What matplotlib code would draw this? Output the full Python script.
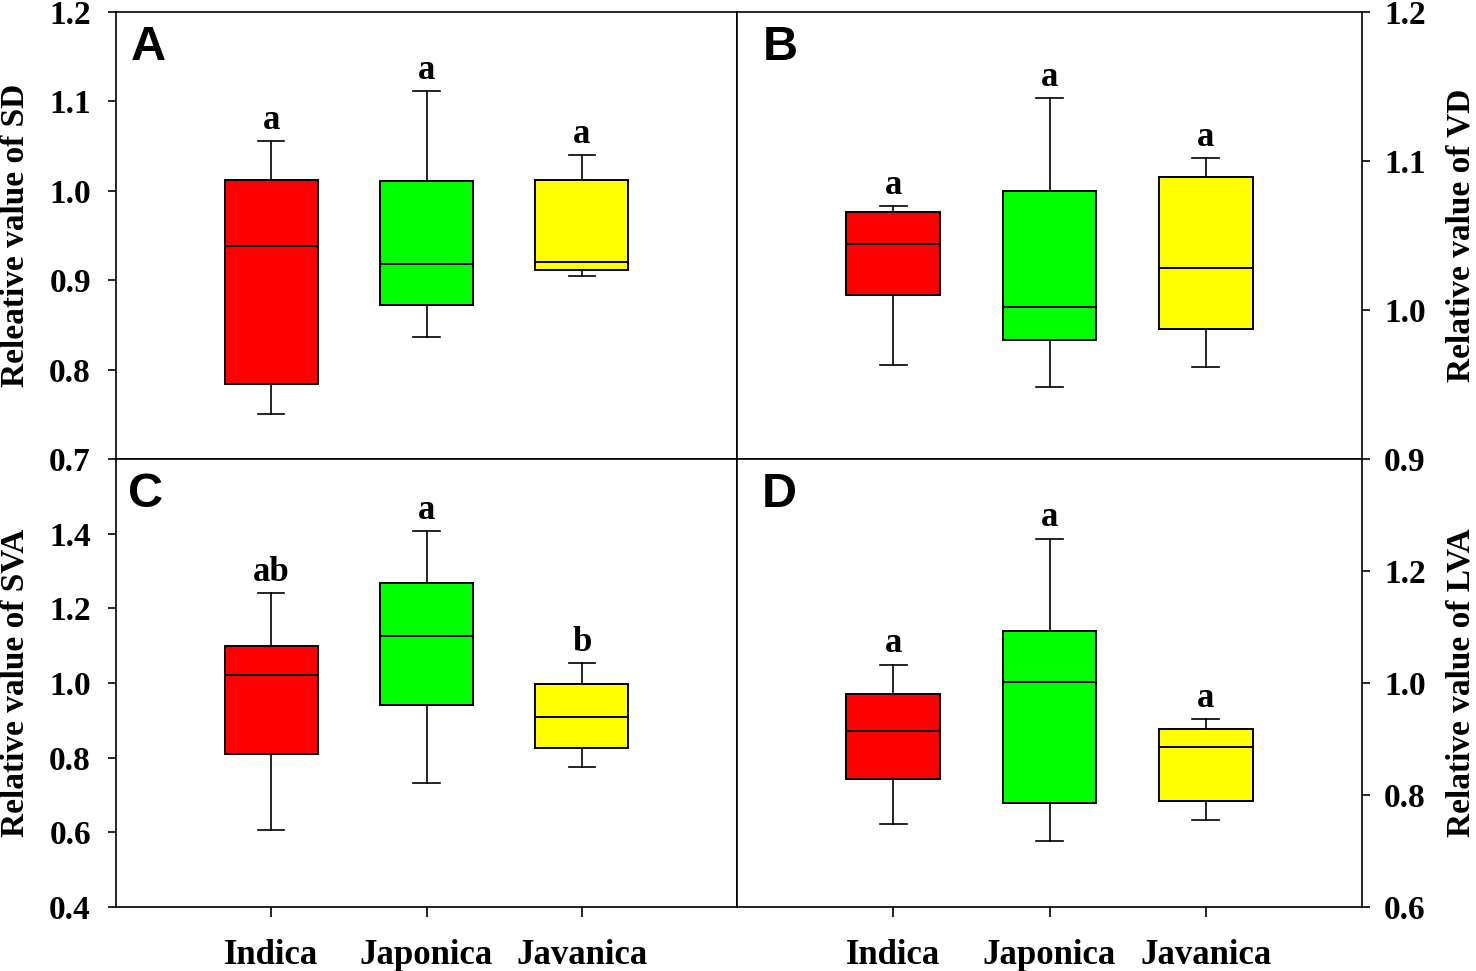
import matplotlib
matplotlib.use("Agg")
import matplotlib.pyplot as plt

# groups and colours
groups = ["Indica", "Japonica", "Javanica"]
colors = ["#FF0000", "#00FF00", "#FFFF00"]

# box stats: whislo, q1, med, q3, whishi
sd_lo = [0.750, 0.836, 0.905]
sd_q1 = [0.784, 0.872, 0.911]
sd_med = [0.938, 0.918, 0.920]
sd_q3 = [1.012, 1.011, 1.012]
sd_hi = [1.056, 1.112, 1.040]
sd_sig = ["a", "a", "a"]

vd_lo = [0.963, 0.948, 0.962]
vd_q1 = [1.010, 0.980, 0.987]
vd_med = [1.044, 1.002, 1.028]
vd_q3 = [1.066, 1.080, 1.089]
vd_hi = [1.070, 1.142, 1.102]
vd_sig = ["a", "a", "a"]

sva_lo = [0.605, 0.733, 0.774]
sva_q1 = [0.809, 0.940, 0.826]
sva_med = [1.022, 1.127, 0.908]
sva_q3 = [1.100, 1.269, 0.997]
sva_hi = [1.241, 1.406, 1.053]
sva_sig = ["ab", "a", "b"]

lva_lo = [0.748, 0.717, 0.755]
lva_q1 = [0.829, 0.786, 0.790]
lva_med = [0.914, 1.002, 0.886]
lva_q3 = [0.980, 1.093, 0.917]
lva_hi = [1.033, 1.258, 0.936]
lva_sig = ["a", "a", "a"]

serif = "Liberation Serif"
sans = "Liberation Sans"

fig = plt.figure(figsize=(14.76, 9.71), dpi=100)

L, M, R = 116 / 1476, 737 / 1476, 1362 / 1476
T, MY, B = 1 - 12 / 971, 1 - 459 / 971, 1 - 907 / 971

panels = [
    # rect, stats, ylim, yticks, ylabel, side, letter, letter_x
    ([L, MY, M - L, T - MY], (sd_lo, sd_q1, sd_med, sd_q3, sd_hi, sd_sig),
     (0.7, 1.2), [0.7, 0.8, 0.9, 1.0, 1.1, 1.2], "Releative value of SD", "left", "A", 15),
    ([M, MY, R - M, T - MY], (vd_lo, vd_q1, vd_med, vd_q3, vd_hi, vd_sig),
     (0.9, 1.2), [0.9, 1.0, 1.1, 1.2], "Relative value of VD", "right", "B", 26),
    ([L, B, M - L, MY - B], (sva_lo, sva_q1, sva_med, sva_q3, sva_hi, sva_sig),
     (0.4, 1.6), [0.4, 0.6, 0.8, 1.0, 1.2, 1.4], "Relative value of SVA", "left", "C", 12),
    ([M, B, R - M, MY - B], (lva_lo, lva_q1, lva_med, lva_q3, lva_hi, lva_sig),
     (0.6, 1.4), [0.6, 0.8, 1.0, 1.2], "Relative value of LVA", "right", "D", 25),
]

for i, (rect, st, ylim, yticks, ylabel, side, letter, lx) in enumerate(panels):
    ax = fig.add_axes(rect)
    lo, q1, med, q3, hi, sig = st
    stats = []
    for k in range(3):
        stats.append({"whislo": lo[k], "q1": q1[k], "med": med[k],
                      "q3": q3[k], "whishi": hi[k], "fliers": []})
    bp = ax.bxp(stats, positions=[1, 2, 3], widths=0.6, patch_artist=True,
                showfliers=False, capwidths=0.17,
                boxprops=dict(linewidth=1.4, edgecolor="black"),
                medianprops=dict(color="black", linewidth=1.4),
                whiskerprops=dict(color="black", linewidth=1.2),
                capprops=dict(color="black", linewidth=1.2))
    for patch, c in zip(bp["boxes"], colors):
        patch.set_facecolor(c)

    for k in range(3):
        ax.annotate(sig[k], (k + 1, hi[k]), xytext=(0, 3), textcoords="offset points",
                    ha="center", va="bottom", fontsize=25, fontweight="bold",
                    family=serif)

    ax.set_xlim(0, 4)
    ax.set_ylim(*ylim)
    ax.set_yticks(yticks)
    ax.set_yticklabels(["%.1f" % v for v in yticks])
    for sp in ax.spines.values():
        sp.set_linewidth(1.2)

    if side == "right":
        ax.yaxis.tick_right()
        ax.yaxis.set_label_position("right")
        ax.tick_params(axis="y", which="both", left=False, right=True, pad=10)
        ax.set_ylabel(ylabel, fontsize=24, fontweight="bold", family=serif,
                      rotation=90, va="top")
        ax.yaxis.set_label_coords(1.134, 0.5)
    else:
        ax.tick_params(axis="y", which="both", left=True, right=False, pad=12)
        ax.set_ylabel(ylabel, fontsize=24, fontweight="bold", family=serif)
        ax.yaxis.set_label_coords(-0.137, 0.5)
    ax.tick_params(axis="y", direction="out", length=6, width=1.2, labelsize=24)

    if i >= 2:
        ax.set_xticks([1, 2, 3])
        ax.set_xticklabels(groups)
        ax.tick_params(axis="x", direction="out", length=7, width=1.2, pad=16,
                       labelsize=25)
    else:
        ax.set_xticks([])
    for lab in ax.get_xticklabels() + ax.get_yticklabels():
        lab.set_fontfamily(serif)
        lab.set_fontweight("bold")

    ax.text(lx / (rect[2] * 1476), 1 - 13 / (rect[3] * 971), letter,
            transform=ax.transAxes, ha="left", va="top", fontsize=35,
            fontweight="bold", family=sans)

fig.savefig("out.png", dpi=100)
